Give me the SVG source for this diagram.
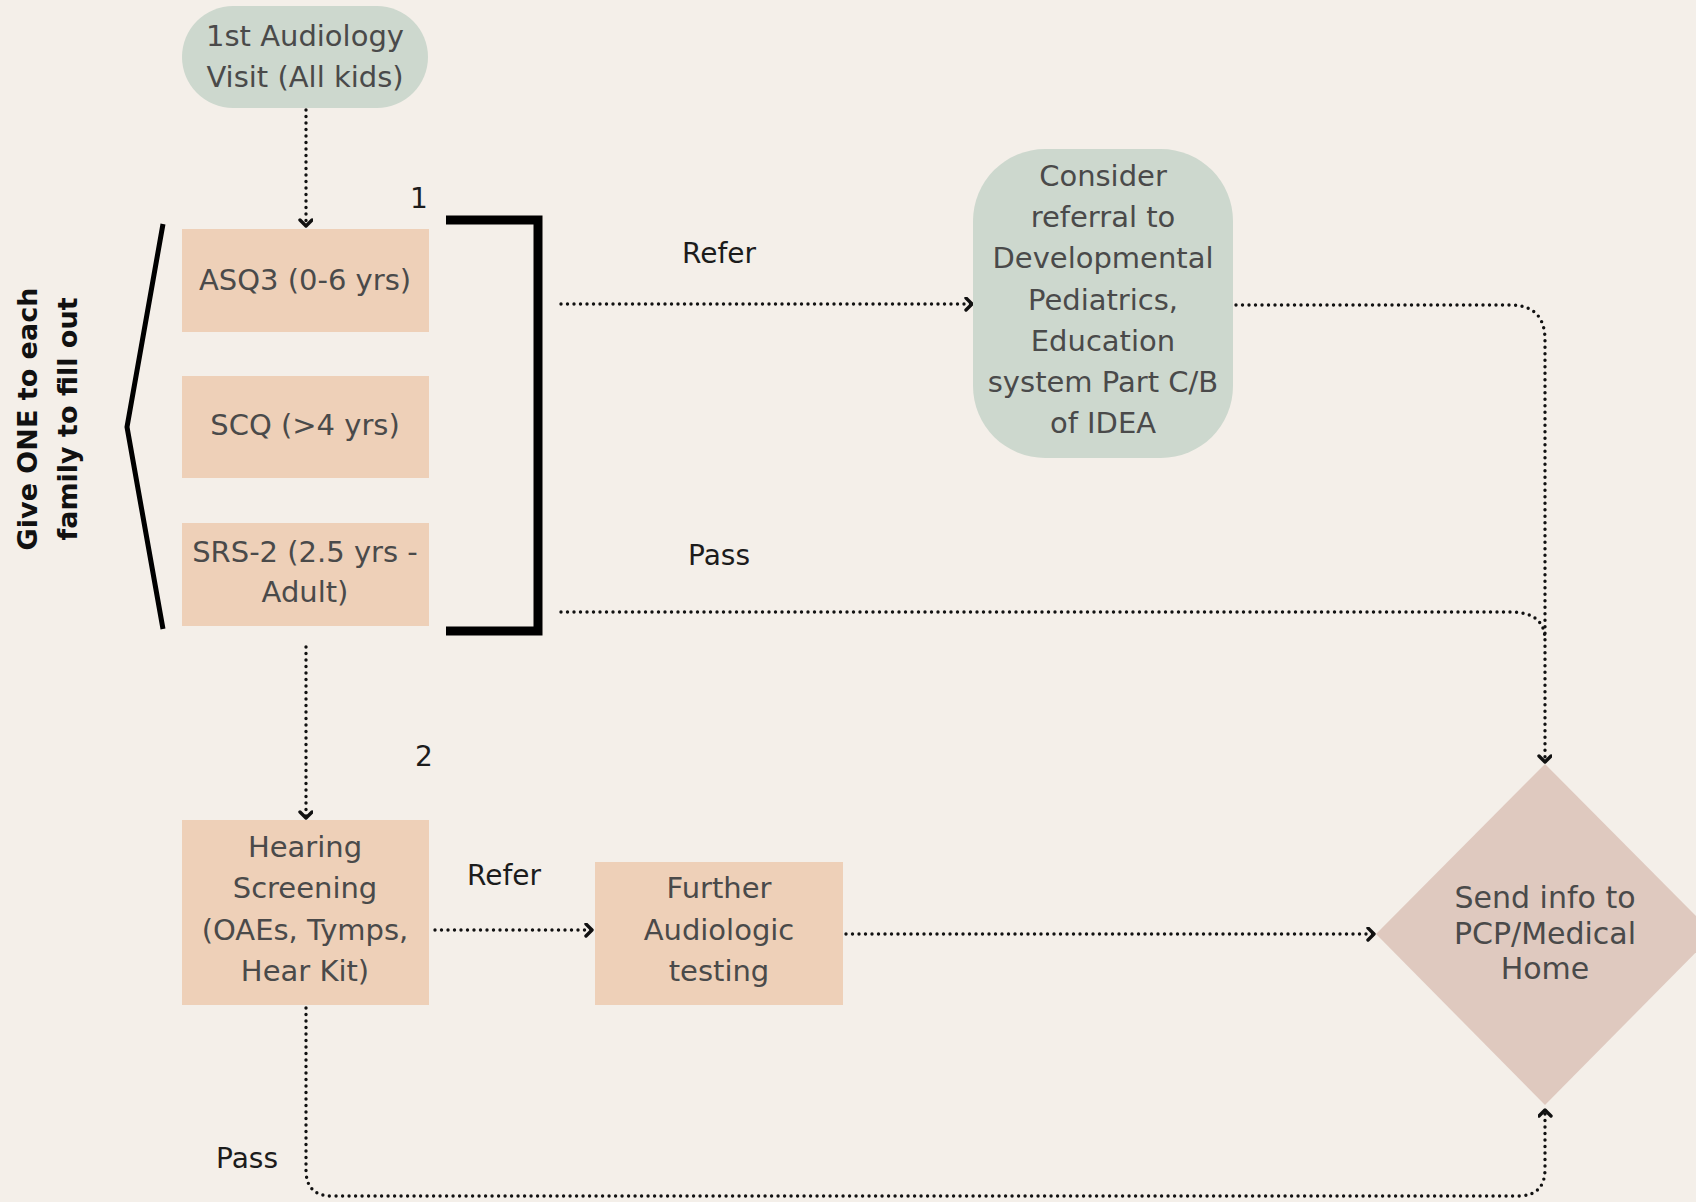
<svg xmlns="http://www.w3.org/2000/svg" width="1696" height="1202" viewBox="0 0 1696 1202">
<style>
.bg{fill:#F4EFE9}
.green{fill:#CDD8CE}
.peach{fill:#EED0B8}
.diam{fill:#DFC9BF}
.nt{font-family:"DejaVu Sans",sans-serif;font-size:29px;fill:#4a4a4a;text-anchor:middle}
.lb{font-family:"DejaVu Sans",sans-serif;font-size:28px;fill:#1c1c1c;text-anchor:middle}
.vt{font-family:"DejaVu Sans",sans-serif;font-size:27px;font-weight:bold;fill:#111;text-anchor:middle}
.dot{fill:none;stroke:#111;stroke-width:3.4;stroke-linecap:round;stroke-dasharray:0 6.5}
.br{fill:none;stroke:#000}
</style>
<defs>
<marker id="arr" markerUnits="userSpaceOnUse" markerWidth="14" markerHeight="16" refX="8" refY="7" orient="auto" viewBox="0 0 14 16">
<path d="M2,1 L8,7 L2,13" fill="none" stroke="#111" stroke-width="3.4" stroke-linecap="round" stroke-linejoin="round"/>
</marker>
</defs>
<rect class="bg" x="0" y="0" width="1696" height="1202"/>

<g id="connectors">
<path class="dot" d="M306,110 L306,226" marker-end="url(#arr)"/>
<path class="dot" d="M561,304 L972,304" marker-end="url(#arr)"/>
<path class="dot" d="M1236,305 L1510,305 Q1545,305 1545,340 L1545,762" marker-end="url(#arr)"/>
<path class="dot" d="M561,612 L1510,612 Q1545,612 1545,640"/>
<path class="dot" d="M306,647 L306,818" marker-end="url(#arr)"/>
<path class="dot" d="M435,930 L592,930" marker-end="url(#arr)"/>
<path class="dot" d="M846,934 L1374,934" marker-end="url(#arr)"/>
<path class="dot" d="M306,1008 L306,1170 Q306,1196 332,1196 L1518,1196 Q1545,1196 1545,1169 L1545,1110" marker-end="url(#arr)"/>
</g>

<g id="brackets">
<polyline class="br" stroke-width="5" points="163,224 127,427 163,629"/>
<polyline class="br" stroke-width="9" points="446,220 538,220 538,631 446,631"/>
</g>

<g id="node-audiology">
<rect class="green" x="182" y="6" width="246" height="102" rx="51"/>
<text class="nt" x="305" y="46">1st Audiology</text>
<text class="nt" x="305" y="87">Visit (All kids)</text>
</g>

<g id="node-asq3">
<rect class="peach" x="182" y="229" width="247" height="103"/>
<text class="nt" x="305" y="290">ASQ3 (0-6 yrs)</text>
</g>

<g id="node-scq">
<rect class="peach" x="182" y="376" width="247" height="102"/>
<text class="nt" x="305" y="435">SCQ (&gt;4 yrs)</text>
</g>

<g id="node-srs2">
<rect class="peach" x="182" y="523" width="247" height="103"/>
<text class="nt" x="305" y="562">SRS-2 (2.5 yrs -</text>
<text class="nt" x="305" y="602">Adult)</text>
</g>

<g id="node-consider">
<rect class="green" x="973" y="149" width="260" height="309" rx="72"/>
<text class="nt" x="1103" y="186">Consider</text>
<text class="nt" x="1103" y="227">referral to</text>
<text class="nt" x="1103" y="268">Developmental</text>
<text class="nt" x="1103" y="310">Pediatrics,</text>
<text class="nt" x="1103" y="351">Education</text>
<text class="nt" x="1103" y="392">system Part C/B</text>
<text class="nt" x="1103" y="433">of IDEA</text>
</g>

<g id="node-hearing">
<rect class="peach" x="182" y="820" width="247" height="185"/>
<text class="nt" x="305" y="857">Hearing</text>
<text class="nt" x="305" y="898">Screening</text>
<text class="nt" x="305" y="940">(OAEs, Tymps,</text>
<text class="nt" x="305" y="981">Hear Kit)</text>
</g>

<g id="node-further">
<rect class="peach" x="595" y="862" width="248" height="143"/>
<text class="nt" x="719" y="898">Further</text>
<text class="nt" x="719" y="940">Audiologic</text>
<text class="nt" x="719" y="981">testing</text>
</g>

<g id="node-send">
<polygon class="diam" points="1545,764 1714,934 1545,1105 1376,934"/>
<text class="nt" x="1545" y="908" style="font-size:30px">Send info to</text>
<text class="nt" x="1545" y="944" style="font-size:30px">PCP/Medical</text>
<text class="nt" x="1545" y="979" style="font-size:30px">Home</text>
</g>

<g id="labels">
<text class="lb" x="419" y="208">1</text>
<text class="lb" x="424" y="766">2</text>
<text class="lb" x="719" y="263">Refer</text>
<text class="lb" x="719" y="565">Pass</text>
<text class="lb" x="504" y="885">Refer</text>
<text class="lb" x="247" y="1168">Pass</text>
<text class="vt" transform="translate(37,419) rotate(-90)">Give ONE to each</text>
<text class="vt" transform="translate(77,419) rotate(-90)">family to fill out</text>
</g>
</svg>
